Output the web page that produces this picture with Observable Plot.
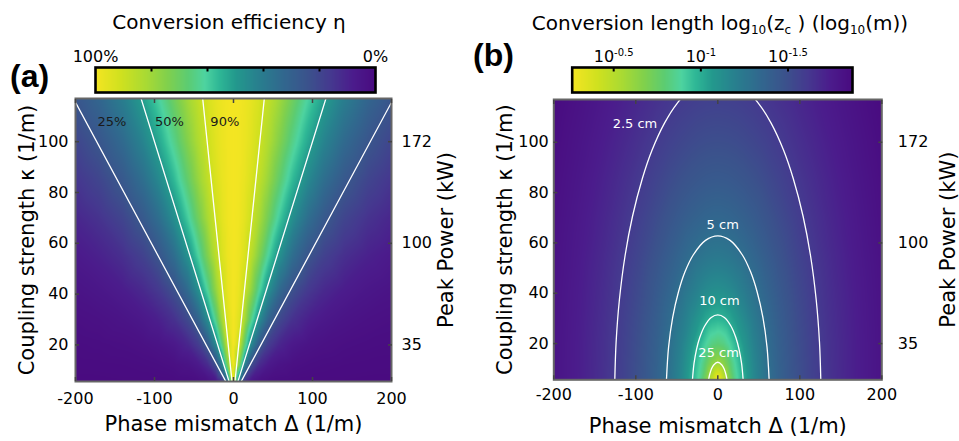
<!DOCTYPE html>
<html><head><meta charset="utf-8">
<script src="https://cdn.jsdelivr.net/npm/d3@7"></script>
<script src="https://cdn.jsdelivr.net/npm/@observablehq/plot@0.6"></script>
<style>
body{margin:0;background:#fff;}
#root{position:relative;width:959px;height:441px;overflow:hidden;background:#fff;font-family:"DejaVu Sans",sans-serif;color:#000;}
.title{position:absolute;font-size:20px;line-height:20px;white-space:nowrap;transform:translateX(-50%);}
.title sub{font-size:12px;position:relative;top:4px;vertical-align:baseline;}
.tag{position:absolute;font-family:"Liberation Sans",Arial,sans-serif;font-weight:bold;font-size:32px;line-height:32px;}
svg{position:absolute;overflow:visible;}
</style></head><body><div id="root"></div>
<script>
// ---------------- data ----------------
const titleA = "Conversion efficiency η";
const titleB = "Conversion length log<sub>10</sub>(z<sub>c</sub> ) (log<sub>10</sub>(m))";
const xLabel = "Phase mismatch Δ (1/m)";
const yLabel = "Coupling strength κ (1/m)";
const y2Label = "Peak Power (kW)";
const xTicks = [-200, -100, 0, 100, 200];
const yTicks = [20, 40, 60, 80, 100];
const powerTickKappa = [20, 60, 100];
const powerTickLabels = ["35", "100", "172"];

// sample grid (phase mismatch columns, coupling-strength rows)
const deltaCols = [-200,-170,-140,-115,-95,-75,-58,-44,-32,-22,-14,-7,0,7,14,22,32,44,58,75,95,115,140,170,200];
const kappaRows = [5.6, 12, 20, 30, 42, 55, 70, 85, 100, 117];

// (a) conversion efficiency, one row per kappa
const eta_k006 = [.001,.001,.002,.002,.003,.006,.009,.016,.03,.06,.14,.39,1,.39,.14,.06,.03,.016,.009,.006,.003,.002,.002,.001,.001];
const eta_k012 = [.004,.005,.007,.011,.016,.025,.041,.069,.123,.229,.424,.746,1,.746,.424,.229,.123,.069,.041,.025,.016,.011,.007,.005,.004];
const eta_k020 = [.010,.014,.020,.029,.042,.066,.106,.171,.281,.452,.671,.891,1,.891,.671,.452,.281,.171,.106,.066,.042,.029,.020,.014,.010];
const eta_k030 = [.022,.030,.044,.064,.091,.138,.211,.317,.468,.650,.821,.948,1,.948,.821,.650,.468,.317,.211,.138,.091,.064,.044,.030,.022];
const eta_k042 = [.042,.058,.083,.118,.163,.239,.344,.477,.633,.785,.900,.973,1,.973,.900,.785,.633,.477,.344,.239,.163,.118,.083,.058,.042];
const eta_k055 = [.070,.095,.134,.186,.251,.350,.473,.610,.747,.862,.939,.984,1,.984,.939,.862,.747,.610,.473,.350,.251,.186,.134,.095,.070];
const eta_k070 = [.109,.145,.200,.270,.352,.466,.593,.717,.827,.910,.962,.990,1,.990,.962,.910,.827,.717,.593,.466,.352,.270,.200,.145,.109];
const eta_k085 = [.153,.200,.269,.353,.445,.562,.682,.789,.876,.937,.974,.993,1,.993,.974,.937,.876,.789,.682,.562,.445,.353,.269,.200,.153];
const eta_k100 = [.200,.257,.338,.431,.526,.640,.748,.838,.907,.954,.981,.995,1,.995,.981,.954,.907,.838,.748,.640,.526,.431,.338,.257,.200];
const eta_k117 = [.255,.321,.411,.509,.603,.709,.803,.876,.930,.966,.986,.996,1,.996,.986,.966,.930,.876,.803,.709,.603,.509,.411,.321,.255];

// (b) log10 of conversion length (m), one row per kappa
const lz_k006 = [-1.804,-1.734,-1.649,-1.564,-1.481,-1.379,-1.268,-1.150,-1.015,-0.859,-0.681,-0.456,-0.251,-0.456,-0.681,-0.859,-1.015,-1.150,-1.268,-1.379,-1.481,-1.564,-1.649,-1.734,-1.804];
const lz_k012 = [-1.805,-1.735,-1.651,-1.566,-1.484,-1.384,-1.276,-1.162,-1.037,-0.902,-0.769,-0.646,-0.582,-0.646,-0.769,-0.902,-1.037,-1.162,-1.276,-1.384,-1.484,-1.566,-1.651,-1.735,-1.805];
const lz_k020 = [-1.806,-1.736,-1.653,-1.570,-1.490,-1.393,-1.291,-1.187,-1.080,-0.976,-0.891,-0.829,-0.804,-0.829,-0.891,-0.976,-1.080,-1.187,-1.291,-1.393,-1.490,-1.570,-1.653,-1.736,-1.806];
const lz_k030 = [-1.809,-1.740,-1.659,-1.578,-1.501,-1.410,-1.318,-1.229,-1.145,-1.074,-1.023,-0.992,-0.980,-0.992,-1.023,-1.074,-1.145,-1.229,-1.318,-1.410,-1.501,-1.578,-1.659,-1.740,-1.809];
const lz_k042 = [-1.813,-1.746,-1.668,-1.591,-1.520,-1.437,-1.358,-1.287,-1.226,-1.179,-1.149,-1.132,-1.126,-1.132,-1.149,-1.179,-1.226,-1.287,-1.358,-1.437,-1.520,-1.591,-1.668,-1.746,-1.813];
const lz_k055 = [-1.820,-1.755,-1.680,-1.608,-1.544,-1.472,-1.406,-1.351,-1.307,-1.276,-1.257,-1.247,-1.243,-1.247,-1.257,-1.276,-1.307,-1.351,-1.406,-1.472,-1.544,-1.608,-1.680,-1.755,-1.820];
const lz_k070 = [-1.829,-1.767,-1.698,-1.632,-1.575,-1.514,-1.462,-1.420,-1.389,-1.369,-1.357,-1.350,-1.348,-1.350,-1.357,-1.369,-1.389,-1.420,-1.462,-1.514,-1.575,-1.632,-1.698,-1.767,-1.829];
const lz_k085 = [-1.840,-1.782,-1.717,-1.658,-1.608,-1.558,-1.515,-1.484,-1.461,-1.447,-1.438,-1.434,-1.432,-1.434,-1.438,-1.447,-1.461,-1.484,-1.515,-1.558,-1.608,-1.658,-1.717,-1.782,-1.840];
const lz_k100 = [-1.852,-1.798,-1.739,-1.686,-1.643,-1.600,-1.566,-1.542,-1.524,-1.513,-1.507,-1.504,-1.503,-1.504,-1.507,-1.513,-1.524,-1.542,-1.566,-1.600,-1.643,-1.686,-1.739,-1.798,-1.852];
const lz_k117 = [-1.868,-1.818,-1.764,-1.718,-1.681,-1.646,-1.619,-1.600,-1.587,-1.579,-1.574,-1.572,-1.571,-1.572,-1.574,-1.579,-1.587,-1.600,-1.619,-1.646,-1.681,-1.718,-1.764,-1.818,-1.868];

// (a) efficiency contour lines [delta, kappa]
const contour25 = [[-207.8,120],[0,0],[207.8,120]];
const contour50 = [[-120,120],[0,0],[120,120]];
const contour90 = [[-40,120],[0,0],[40,120]];
const contourLabelsA = ["25%", "50%", "90%"];
const contourLabelDeltaA = [-154, -81, -11];
const contourLabelKappaA = [108, 108, 108];

// (b) conversion-length contour lines [delta, kappa]
const contour2_5cm = [[-125.6,5.6],[-124,20.6],[-120,37.4],[-113,55.1],[-104,70.6],[-92,85.6],[-80,97],[-65,107.6],[-50,115.3],[-30,122.1],[0,125.7],[30,122.1],[50,115.3],[65,107.6],[80,97],[92,85.6],[104,70.6],[113,55.1],[120,37.4],[124,20.6],[125.6,5.6]];
const contour5cm = [[-62.6,5.6],[-60,18.7],[-55,30.4],[-48,40.5],[-40,48.5],[-30,55.2],[-15,61],[0,62.8],[15,61],[30,55.2],[40,48.5],[48,40.5],[55,30.4],[60,18.7],[62.6,5.6]];
const contour10cm = [[-30.9,5.6],[-29,12.1],[-26,17.6],[-22,22.4],[-16,27],[-8,30.4],[0,31.4],[8,30.4],[16,27],[22,22.4],[26,17.6],[29,12.1],[30.9,5.6]];
const contour25cm = [[-11.25,5.6],[-10,7.6],[-8,9.7],[-5,11.5],[0,12.57],[5,11.5],[8,9.7],[10,7.6],[11.25,5.6]];
const contourLabelsB = ["2.5 cm", "5 cm", "10 cm", "25 cm"];
const contourLabelDeltaB = [-101, 6, 2, 1];
const contourLabelKappaB = [107.3, 67.1, 37, 16.3];

// colour bars
const cbATicks = [1, 0];
const cbALabels = ["100%", "0%"];
const cbAMinor = [0.2, 0.4, 0.6, 0.8];
const cbBTicks = [-0.5, -1, -1.5];
const cbBLabels = ["10^-0.5", "10^-1", "10^-1.5"];
const lzMin = -1.87, lzMax = -0.262;

// colour map stops
const stopT = [0, 0.08, 0.16, 0.24, 0.33, 0.42, 0.50, 0.56, 0.61, 0.67, 0.74, 0.82, 0.91, 1];
const stopColors = ["#490b80","#4b1c8c","#45398f","#3b528c","#31688e","#28808e","#23998d","#2fb896","#4ed4a0","#5ccc72","#7fd04e","#a9da34","#d0e11f","#f4e522"];

// ---------------- build ----------------
const etaGrid = [eta_k006, eta_k012, eta_k020, eta_k030, eta_k042, eta_k055, eta_k070, eta_k085, eta_k100, eta_k117];
const lzGrid = [lz_k006, lz_k012, lz_k020, lz_k030, lz_k042, lz_k055, lz_k070, lz_k085, lz_k100, lz_k117];
const tableA = kappaRows.flatMap((k, r) => deltaCols.map((d, c) => ({delta: d, kappa: k, v: etaGrid[r][c]})));
const tableB = kappaRows.flatMap((k, r) => deltaCols.map((d, c) => ({delta: d, kappa: k, v: lzGrid[r][c]})));
const toRows = (pts, level) => pts.map(([delta, kappa]) => ({delta, kappa, level}));
const contoursA = [...toRows(contour25, "25"), ...toRows(contour50, "50"), ...toRows(contour90, "90")];
const contoursB = [...toRows(contour2_5cm, "2.5"), ...toRows(contour5cm, "5"), ...toRows(contour10cm, "10"), ...toRows(contour25cm, "25")];
const labelsA = contourLabelsA.map((t, i) => ({t, delta: contourLabelDeltaA[i], kappa: contourLabelKappaA[i]}));
const labelsB = contourLabelsB.map((t, i) => ({t, delta: contourLabelDeltaB[i], kappa: contourLabelKappaB[i]}));
const powerMap = new Map(powerTickKappa.map((k, i) => [k, powerTickLabels[i]]));
const cbAMap = new Map(cbATicks.map((k, i) => [k, cbALabels[i]]));
const cbBMap = new Map(cbBTicks.map((k, i) => [k, cbBLabels[i]]));

const colorA = {type: "linear", domain: stopT, range: stopColors, interpolate: "rgb", clamp: true};
const colorB = {type: "linear", domain: stopT.map(t => lzMin + t * (lzMax - lzMin)), range: stopColors, interpolate: "rgb", clamp: true};
const style = {fontFamily: '"DejaVu Sans", sans-serif', fontSize: "16px", background: "transparent", color: "#000", overflow: "visible"};
const Y0 = 5.6, Y1 = 117;

function mainPanel(o) {
  return Plot.plot({
    width: 480, height: 346,
    marginLeft: o.ml, marginRight: o.mr, marginTop: o.mt, marginBottom: o.mb,
    x: {domain: [-200, 200]}, y: {domain: [Y0, Y1]},
    color: o.color, style,
    marks: [
      Plot.raster(o.table, {x: "delta", y: "kappa", fill: "v", interpolate: "barycentric", pixelSize: 1, x1: -200, x2: 200, y1: Y0, y2: Y1}),
      Plot.line(o.contours, {x: "delta", y: "kappa", z: "level", stroke: "#fff", strokeWidth: 1.3, curve: o.curve, clip: true}),
      Plot.text(o.labels, {x: "delta", y: "kappa", text: "t", fill: o.labelFill, fontSize: o.labelSize}),
      Plot.frame({stroke: "#666", strokeWidth: 2}),
      Plot.axisX({anchor: "bottom", ticks: xTicks, tickSize: -4, tickFormat: () => "", stroke: "#444", strokeWidth: 1.5, label: null}),
      Plot.axisX({anchor: "top", ticks: xTicks, tickSize: -4, tickFormat: () => "", stroke: "#444", strokeWidth: 1.5, label: null}),
      Plot.axisY({anchor: "left", ticks: yTicks, tickSize: -4, tickFormat: () => "", stroke: "#444", strokeWidth: 1.5, label: null}),
      Plot.axisY({anchor: "right", ticks: powerTickKappa, tickSize: -4, tickFormat: () => "", stroke: "#444", strokeWidth: 1.5, label: null}),
      Plot.axisX({anchor: "bottom", ticks: xTicks, tickSize: 0, tickPadding: o.xPad, tickFormat: d => String(d), label: null}),
      Plot.axisY({anchor: "left", ticks: yTicks, tickSize: 0, tickPadding: o.yPad, label: null}),
      Plot.axisY({anchor: "right", ticks: powerTickKappa, tickSize: 0, tickPadding: o.y2Pad, tickFormat: d => powerMap.get(d), label: null}),
      Plot.text([xLabel], {frameAnchor: "bottom", text: d => d, dy: o.xLabDy, fontSize: 21, textAnchor: "middle", lineAnchor: "middle"}),
      Plot.text([yLabel], {frameAnchor: "left", text: d => d, rotate: -90, dx: o.yLabDx, fontSize: 21, textAnchor: "middle", lineAnchor: "middle"}),
      Plot.text([y2Label], {frameAnchor: "right", text: d => d, rotate: -90, dx: o.y2LabDx, fontSize: 21, textAnchor: "middle", lineAnchor: "middle"})
    ]
  });
}

function colorBar(o) {
  return Plot.plot({
    width: 480, height: 95,
    marginLeft: o.ml, marginRight: o.mr, marginTop: 67, marginBottom: 3,
    x: {domain: o.xdomain}, y: {domain: [0, 1], axis: null},
    color: o.color, style,
    marks: [
      Plot.raster({x1: o.xdomain[0], x2: o.xdomain[1], y1: 0, y2: 1, fill: (x, y) => x, pixelSize: 1}),
      Plot.frame({stroke: "#000", strokeWidth: 2.6}),
      Plot.axisX({anchor: "top", ticks: o.minor, tickSize: -3.5, tickFormat: () => "", stroke: "#000", strokeWidth: 2, label: null}),
      Plot.axisX({anchor: "top", ticks: o.major, tickSize: 0, tickPadding: 6, tickFormat: o.fmt, label: null})
    ]
  });
}

const root = document.getElementById("root");
function place(el, left, top) { el.style.left = left + "px"; el.style.top = top + "px"; root.appendChild(el); }

const svgA = mainPanel({table: tableA, color: colorA, contours: contoursA, labels: labelsA, labelFill: "#1a1a1a", labelSize: 13, curve: "linear",
  ml: 75, mr: 89, mt: 3, mb: 60, xPad: 11, yPad: 7, y2Pad: 10, xLabDy: 43, yLabDx: -48.5, y2LabDx: 54.6});
place(svgA, 0, 95);
const svgB = mainPanel({table: tableB, color: colorB, contours: contoursB, labels: labelsB, labelFill: "#fff", labelSize: 13, curve: "catmull-rom",
  ml: 74.3, mr: 77.7, mt: 4, mb: 61.7, xPad: 9, yPad: 5, y2Pad: 16, xLabDy: 46, yLabDx: -49, y2LabDx: 66});
place(svgB, 479, 95);

const cbA = colorBar({ml: 95, mr: 105, xdomain: [1, 0], color: colorA, minor: cbAMinor, major: cbATicks, fmt: d => cbAMap.get(d)});
place(cbA, 0, 0);
const cbB = colorBar({ml: 92.7, mr: 107, xdomain: [lzMax, lzMin], color: colorB, minor: cbBTicks, major: cbBTicks, fmt: d => cbBMap.get(d)});
place(cbB, 479, 0);
d3.select(cbB).selectAll("text").each(function() {
  const s = this.textContent;
  if (s.includes("^")) {
    const [base, exp] = s.split("^");
    const t = d3.select(this); t.text(null);
    t.append("tspan").text(base);
    t.append("tspan").attr("dy", "-0.6em").attr("font-size", "10px").text(exp);
  }
});

const tA = document.createElement("div"); tA.className = "title"; tA.innerHTML = titleA; place(tA, 229, 12);
const tB = document.createElement("div"); tB.className = "title"; tB.innerHTML = titleB; place(tB, 720, 13);
const gA = document.createElement("div"); gA.className = "tag"; gA.textContent = "(a)"; place(gA, 10, 60);
const gB = document.createElement("div"); gB.className = "tag"; gB.textContent = "(b)"; place(gB, 473, 39);
</script></body></html>
